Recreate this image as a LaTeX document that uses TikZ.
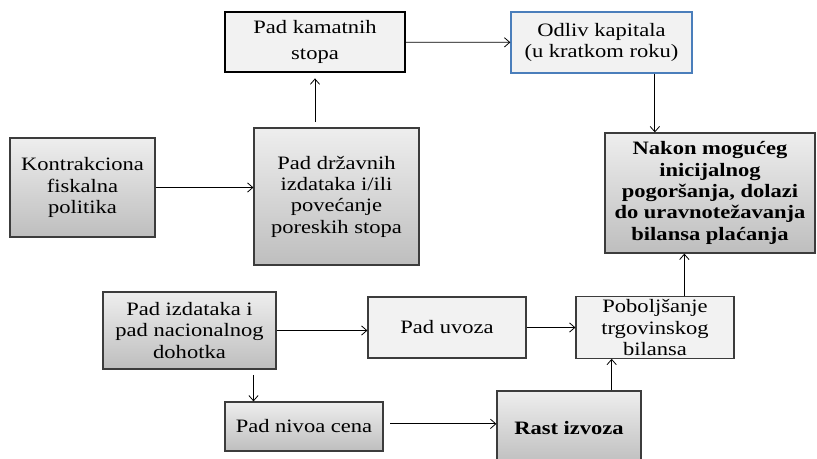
\documentclass[tikz,border=0pt]{standalone}
\usepackage{fontspec}
\setmainfont{Liberation Serif}[FakeStretch=1.19]
\usetikzlibrary{arrows.meta}
\definecolor{boxlight}{RGB}{242,242,242}
\definecolor{gradtop}{RGB}{238,238,238}
\definecolor{gradbot}{RGB}{190,190,190}
\definecolor{boxline}{RGB}{60,60,60}
\definecolor{blueline}{RGB}{74,126,187}
\begin{document}
\begin{tikzpicture}[
  x=0.75pt, y=-0.75pt,
  box/.style={draw=boxline, line width=0.9pt, align=center, inner sep=2pt,
    font=\fontsize{14.2}{16}\selectfont},
  plain/.style={box, fill=boxlight},
  shaded/.style={box, top color=gradtop, bottom color=gradbot},
  arr/.style={line width=0.6pt, -{Straight Barb[length=4pt,width=7pt]}}
]
\useasboundingbox (0,0) rectangle (817,458);
\clip (0,0) rectangle (817,458);

% Top row
\node[plain, draw=black, line width=1.6pt, minimum width=180*0.75pt, minimum height=60*0.75pt] (kamat) at (315,42) {Pad kamatnih\\[4pt]stopa};
\node[plain, draw=blueline, line width=1pt, minimum width=181*0.75pt, minimum height=61*0.75pt] (odliv) at (601.5,42.5) {Odliv kapitala\\(u kratkom roku)};

% Middle row
\node[shaded, minimum width=145*0.75pt, minimum height=99*0.75pt] (kontr) at (82.5,187.5) {Kontrakciona\\fiskalna\\politika};
\node[shaded, minimum width=165*0.75pt, minimum height=137*0.75pt] (drzav) at (336.5,196.5) {Pad državnih\\izdataka i/ili\\povećanje\\poreskih stopa};
\node[shaded, font=\fontsize{14.2}{16}\selectfont\bfseries, minimum width=210*0.75pt, minimum height=120*0.75pt] (nakon) at (710,193) {Nakon mogućeg\\inicijalnog\\pogoršanja, dolazi\\do uravnotežavanja\\bilansa plaćanja};

% Bottom rows
\node[shaded, minimum width=173*0.75pt, minimum height=77*0.75pt] (izdat) at (189.5,330.5) {Pad izdataka i\\pad nacionalnog\\dohotka};
\node[plain, minimum width=158*0.75pt, minimum height=61*0.75pt] (uvoz) at (447,327.5) {Pad uvoza};
\node[plain, minimum width=158*0.75pt, minimum height=61*0.75pt] (pobolj) at (655,327.5) {Poboljšanje\\trgovinskog\\bilansa};
\node[shaded, minimum width=158*0.75pt, minimum height=49*0.75pt] (nivo) at (304,426.5) {Pad nivoa cena};
\node[shaded, font=\fontsize{14.2}{16}\selectfont\bfseries, minimum width=144*0.75pt, minimum height=74*0.75pt] (rast) at (569,428) {Rast izvoza};

\draw[arr] (kamat) -- (odliv);
\draw[arr, shorten <=4pt, shorten >=4pt] (drzav.north -| kamat.south) -- (kamat.south);
\draw[arr] (kontr.east) -- (kontr.east -| drzav.west);
\draw[arr] ([xshift=40pt]odliv.south) -- ([xshift=40pt]odliv.south |- nakon.north);
\draw[arr] ([xshift=22pt]pobolj.north) -- ([xshift=22pt]pobolj.north |- nakon.south);

\draw[arr] (izdat.east) -- (izdat.east -| uvoz.west);
\draw[arr] (uvoz) -- (pobolj);
\draw[arr, shorten <=4pt] ([xshift=48pt]izdat.south) -- ([xshift=48pt]izdat.south |- nivo.north);
\draw[arr, shorten <=5pt] ([yshift=2pt]nivo.east) -- ([yshift=2pt]nivo.east -| rast.west);
\draw[arr] ([xshift=32pt]rast.north) -- ([xshift=32pt]rast.north |- pobolj.south);
\end{tikzpicture}
\end{document}
